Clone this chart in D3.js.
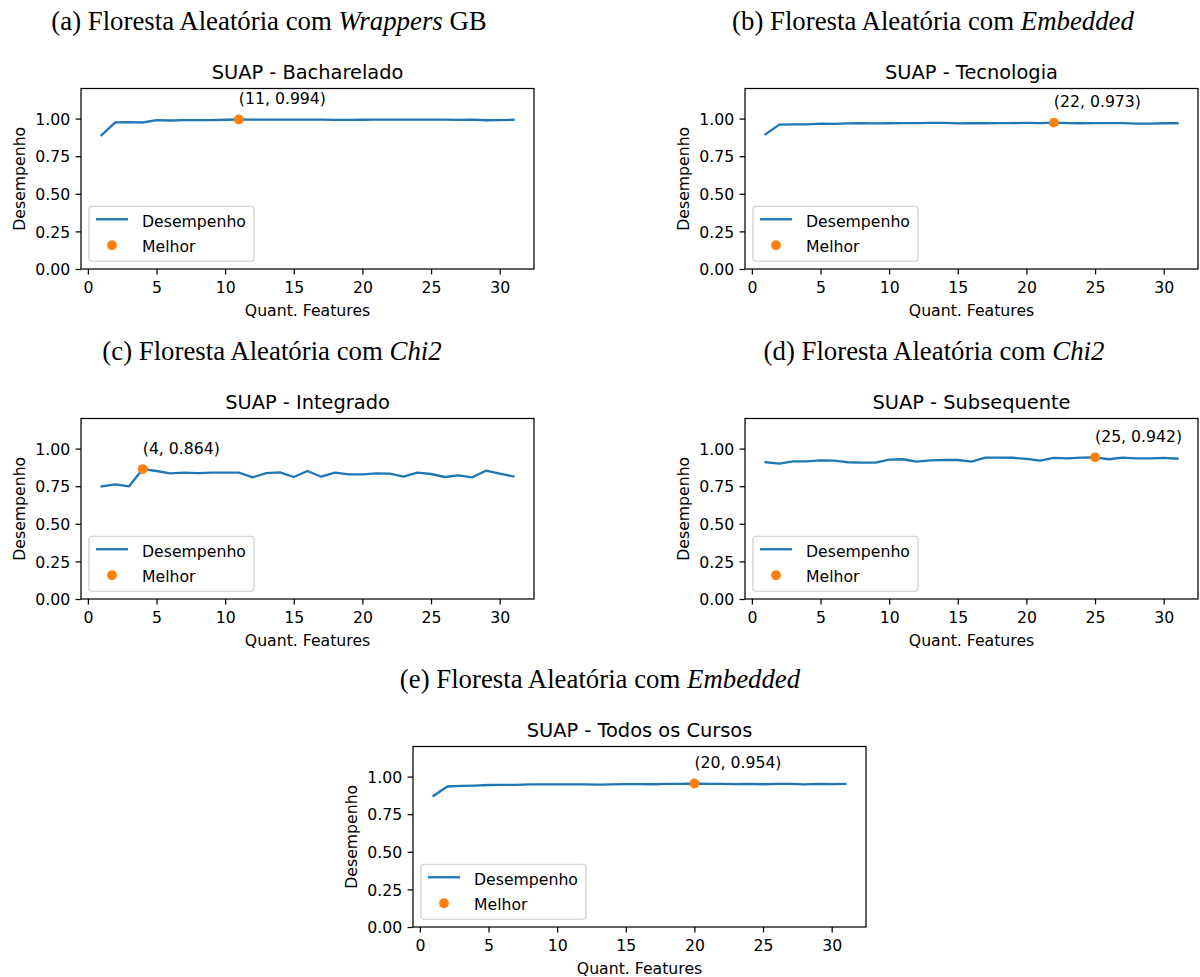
<!DOCTYPE html>
<html>
<head>
<meta charset="utf-8">
<script src="https://cdn.jsdelivr.net/npm/d3@7"></script>
<style>
	body { margin: 0; background: white; }
	svg { display: block; }
</style>
</head>
<body>
<div id="chart"></div>
<script>
'use strict';

// quantidade de features (eixo x)
var quantFeatures = [1, 2, 3, 4, 5, 6, 7, 8, 9, 10, 11, 12, 13, 14, 15, 16,
	17, 18, 19, 20, 21, 22, 23, 24, 25, 26, 27, 28, 29, 30, 31];

var bachareladoValues = [0.890, 0.975, 0.976, 0.974, 0.990, 0.987, 0.990, 0.990, 0.990, 0.992, 0.994,
	0.993, 0.993, 0.993, 0.993, 0.993, 0.993, 0.991, 0.991, 0.992, 0.993, 0.993, 0.993, 0.993,
	0.993, 0.993, 0.991, 0.993, 0.989, 0.990, 0.992];

var tecnologiaValues = [0.896, 0.960, 0.962, 0.962, 0.966, 0.965, 0.968, 0.969, 0.968, 0.969, 0.970,
	0.970, 0.971, 0.972, 0.968, 0.969, 0.969, 0.970, 0.970, 0.971, 0.970, 0.973, 0.970, 0.969,
	0.970, 0.970, 0.970, 0.967, 0.967, 0.969, 0.969];

var integradoValues = [0.749, 0.762, 0.749, 0.864, 0.851, 0.835, 0.840, 0.837, 0.840, 0.840, 0.840,
	0.809, 0.837, 0.842, 0.811, 0.851, 0.813, 0.840, 0.829, 0.829, 0.835, 0.833, 0.813, 0.840,
	0.831, 0.811, 0.822, 0.809, 0.853, 0.833, 0.815];

var subsequenteValues = [0.909, 0.900, 0.915, 0.915, 0.922, 0.920, 0.909, 0.907, 0.907, 0.927, 0.929,
	0.913, 0.922, 0.924, 0.924, 0.913, 0.940, 0.940, 0.939, 0.931, 0.920, 0.938, 0.935, 0.940,
	0.942, 0.929, 0.940, 0.935, 0.935, 0.938, 0.933];

var todosValues = [0.872, 0.934, 0.938, 0.940, 0.944, 0.945, 0.945, 0.948, 0.948, 0.948, 0.948,
	0.948, 0.947, 0.948, 0.950, 0.950, 0.949, 0.951, 0.951, 0.954, 0.951, 0.951, 0.950, 0.951,
	0.949, 0.951, 0.951, 0.948, 0.951, 0.950, 0.951];

var panelTitles = ['SUAP - Bacharelado', 'SUAP - Tecnologia', 'SUAP - Integrado',
	'SUAP - Subsequente', 'SUAP - Todos os Cursos'];

var captionStarts = ['(a) Floresta Aleatória com ', '(b) Floresta Aleatória com ',
	'(c) Floresta Aleatória com ', '(d) Floresta Aleatória com ', '(e) Floresta Aleatória com '];
var captionItalics = ['Wrappers', 'Embedded', 'Chi2', 'Chi2', 'Embedded'];
var captionEnds = [' GB', '', '', '', ''];

var xTicks = [0, 5, 10, 15, 20, 25, 30];
var yTicks = [0, 0.25, 0.5, 0.75, 1.0];
var legendLabels = ['Desempenho', 'Melhor'];

var seriesList = [bachareladoValues, tecnologiaValues, integradoValues, subsequenteValues, todosValues];

// posicao de cada subfigura
var layout = [
	{left: 81, top: 88.5, capX: 269, capY: 30},
	{left: 745, top: 88.5, capX: 933, capY: 30},
	{left: 81, top: 418.5, capX: 272, capY: 360},
	{left: 745, top: 418.5, capX: 934, capY: 360},
	{left: 413, top: 746.5, capX: 600, capY: 688}
];

var width = 453;
var height = 180.5;
var fontSize = 15.7;
var sans = '"DejaVu Sans", sans-serif';
var blue = '#1f77b4';
var orange = '#ff7f0e';

var svg = d3.select('#chart').append('svg')
	.attr('width', 1200)
	.attr('height', 977);

svg.append('rect')
	.attr('width', 1200)
	.attr('height', 977)
	.attr('fill', 'white');

var x = d3.scaleLinear().domain([-0.5, 32.5]).range([0, width]);
var y = d3.scaleLinear().domain([0, 1.2]).range([height, 0]);

var line = d3.line()
	.x(function(d){ return x(d[0]); })
	.y(function(d){ return y(d[1]); });

seriesList.forEach(function(values, i){

	var pos = layout[i];
	var points = quantFeatures.map(function(f, j){ return [f, values[j]]; });
	var bestIndex = d3.maxIndex(values);
	var best = points[bestIndex];

	// legenda da subfigura
	var cap = svg.append('text')
		.attr('x', pos.capX)
		.attr('y', pos.capY)
		.attr('text-anchor', 'middle')
		.attr('font-family', '"Liberation Serif", "Times New Roman", serif')
		.attr('font-size', 26.8)
		.attr('fill', 'black');
	cap.append('tspan').text(captionStarts[i]);
	cap.append('tspan').attr('font-style', 'italic').text(captionItalics[i]);
	cap.append('tspan').text(captionEnds[i]);

	var g = svg.append('g')
		.attr('transform', 'translate(' + pos.left + ',' + pos.top + ')');

	g.append('text')
		.attr('x', width / 2)
		.attr('y', -9.3)
		.attr('text-anchor', 'middle')
		.attr('font-family', sans)
		.attr('font-size', 19.4)
		.attr('fill', 'black')
		.text(panelTitles[i]);

	var xAxis = g.append('g')
		.attr('transform', 'translate(0,' + height + ')')
		.call(d3.axisBottom(x).tickValues(xTicks).tickSize(5.4).tickPadding(5.4).tickFormat(d3.format('d')));

	var yAxis = g.append('g')
		.call(d3.axisLeft(y).tickValues(yTicks).tickSize(5.4).tickPadding(5.4).tickFormat(d3.format('.2f')));

	[xAxis, yAxis].forEach(function(ax){
		ax.select('.domain').remove();
		ax.attr('font-family', sans).attr('font-size', fontSize);
		ax.selectAll('line').attr('stroke', 'black').attr('stroke-width', 1.24);
		ax.selectAll('text').attr('fill', 'black');
	});
	xAxis.selectAll('text').attr('dy', '0.85em');
	yAxis.selectAll('text').attr('dy', '0.36em');

	g.append('text')
		.attr('x', width / 2)
		.attr('y', height + 46.5)
		.attr('text-anchor', 'middle')
		.attr('font-family', sans)
		.attr('font-size', fontSize)
		.attr('fill', 'black')
		.text('Quant. Features');

	g.append('text')
		.attr('transform', 'translate(-56.5,' + (height / 2) + ') rotate(-90)')
		.attr('text-anchor', 'middle')
		.attr('font-family', sans)
		.attr('font-size', fontSize)
		.attr('fill', 'black')
		.text('Desempenho');

	g.append('path')
		.datum(points)
		.attr('fill', 'none')
		.attr('stroke', blue)
		.attr('stroke-width', 2.33)
		.attr('stroke-linejoin', 'round')
		.attr('stroke-linecap', 'square')
		.attr('d', line);

	g.append('circle')
		.attr('cx', x(best[0]))
		.attr('cy', y(best[1]))
		.attr('r', 4.9)
		.attr('fill', orange);

	g.append('text')
		.attr('x', x(best[0]))
		.attr('y', y(best[1]) - 15.5)
		.attr('font-family', sans)
		.attr('font-size', fontSize)
		.attr('fill', 'black')
		.text('(' + best[0] + ', ' + d3.format('.3f')(best[1]) + ')');

	// legenda
	var leg = g.append('g')
		.attr('transform', 'translate(8,' + (height - 7.75 - 55) + ')');

	var box = leg.append('rect')
		.attr('height', 55)
		.attr('rx', 3)
		.attr('fill', 'white')
		.attr('fill-opacity', 0.8)
		.attr('stroke', '#cccccc')
		.attr('stroke-width', 1.2);

	leg.append('line')
		.attr('x1', 7).attr('x2', 39)
		.attr('y1', 13).attr('y2', 13)
		.attr('stroke', blue)
		.attr('stroke-width', 2.33);

	leg.append('circle')
		.attr('cx', 23)
		.attr('cy', 39)
		.attr('r', 4.9)
		.attr('fill', orange);

	var labels = leg.selectAll('text.lab')
		.data(legendLabels)
		.enter().append('text')
			.attr('class', 'lab')
			.attr('x', 53)
			.attr('y', function(d, k){ return 20.5 + k * 25; })
			.attr('font-family', sans)
			.attr('font-size', fontSize)
			.attr('fill', 'black')
			.text(function(d){ return d; });

	var textW = d3.max(labels.nodes(), function(n){ return n.getComputedTextLength(); });
	box.attr('width', 53 + textW + 8);

	g.append('rect')
		.attr('width', width)
		.attr('height', height)
		.attr('fill', 'none')
		.attr('stroke', 'black')
		.attr('stroke-width', 1.24);
});
</script>
</body>
</html>
